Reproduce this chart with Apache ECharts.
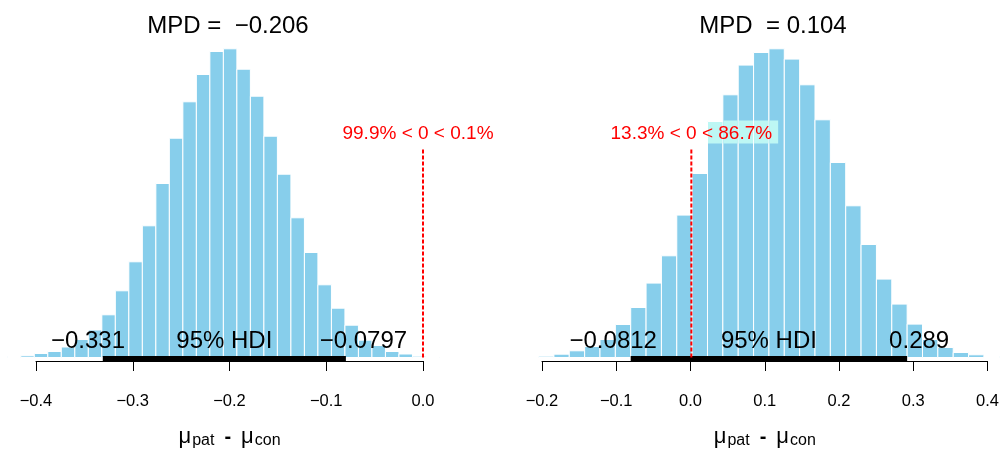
<!DOCTYPE html>
<html>
<head>
<meta charset="utf-8">
<script src="https://cdn.jsdelivr.net/npm/echarts@6/dist/echarts.min.js"></script>
<style>
  html, body { margin: 0; padding: 0; background: #fff; }
  #chart { width: 1002px; height: 450px; }
</style>
</head>
<body>
<div id="chart"></div>
<script>
// Posterior of mu_pat - mu_con for two comparisons: histogram heights per bin
const leftFreq = [1, 1.7, 4, 6, 10.5, 18, 27.5, 42.7, 66.7, 95.7, 131.7, 174, 219.3, 255.7, 283, 306,
                  308.7, 288.3, 261.3, 221.3, 183.3, 139.7, 105, 72.7, 49.3, 32.3, 17.3, 12, 6, 3.5, 1.3, 0.5];
const rightFreq = [1.3, 3.3, 6.7, 11, 18, 33, 50, 74.4, 101.7, 142.4, 184, 236, 262.7, 292.4, 305,
                   308.7, 298.4, 272.7, 237.7, 195, 151.7, 113, 78.4, 53.4, 33.4, 18, 10, 5, 2.7, 1];
const leftBinStart = -0.4297, leftBinWidth = 0.01396;
const rightBinStart = -0.2046, rightBinWidth = 0.020567;

const leftHDI = [-0.331, -0.0797];
const rightHDI = [-0.0812, 0.289];
const leftMPD = '\u22120.206';
const rightMPD = '0.104';
const leftPct = ['99.9%', '0.1%'];
const rightPct = ['13.3%', '86.7%'];
const compVal = 0;

const FONT = "'Liberation Sans', Arial, Helvetica, sans-serif";
const BAR = '#87CEEB';
const BAR_HILITE = '#bdf7f4';

const measureCtx = document.createElement('canvas').getContext('2d');
function textWidth(t, size) {
  measureCtx.font = size + 'px ' + FONT;
  return measureCtx.measureText(t).width;
}
function fmtNum(v) {
  const s = String(v);
  return s.charAt(0) === '-' ? '\u2212' + s.slice(1) : s;
}
function fmtTick(v) {
  const r = Math.round(v * 10) / 10;
  return (r < 0 ? '\u2212' : '') + Math.abs(r).toFixed(1);
}

function binData(freq, start, width) {
  return freq.map((h, i) => [start + i * width, start + (i + 1) * width, h]);
}

function histRender(params, api) {
  const p0 = api.coord([api.value(0), 0]);
  const p1 = api.coord([api.value(1), api.value(2)]);
  return {
    type: 'rect',
    shape: { x: p0[0], y: p1[1], width: p1[0] - p0[0], height: p0[1] - p1[1] },
    style: { fill: BAR, stroke: '#ffffff', lineWidth: 1 }
  };
}

// thick HDI segment with its end values and the "95% HDI" caption
function hdiRender(params, api) {
  const lo = api.value(0), hi = api.value(1);
  const a = api.coord([lo, 0]);
  const b = api.coord([hi, 0]);
  const size = 24;
  const loTxt = fmtNum(lo), hiTxt = fmtNum(hi);
  const wLo = textWidth(loTxt, size), wHi = textWidth(hiTxt, size);
  const ty = a[1] - 4;
  const font = size + 'px ' + FONT;
  return {
    type: 'group',
    children: [
      { type: 'line', shape: { x1: a[0], y1: a[1] + 1, x2: b[0], y2: b[1] + 1 },
        style: { stroke: '#000', lineWidth: 5 } },
      { type: 'text', x: a[0] - 0.7 * wLo, y: ty,
        style: { text: loTxt, font: font, fill: '#000', align: 'left', verticalAlign: 'bottom' } },
      { type: 'text', x: b[0] - 0.3 * wHi, y: ty,
        style: { text: hiTxt, font: font, fill: '#000', align: 'left', verticalAlign: 'bottom' } },
      { type: 'text', x: (a[0] + b[0]) / 2, y: ty,
        style: { text: '95% HDI', font: font, fill: '#000', align: 'center', verticalAlign: 'bottom' } }
    ]
  };
}

// dashed comparison line at compVal with the percentage text above it;
// the text box lightens whatever bars lie behind it
function compRender(label, shiftX, bins) {
  return function (params, api) {
    const base = api.coord([api.value(0), 0]);
    const top = api.coord([api.value(0), api.value(1)]);
    const lab = api.coord([api.value(0), api.value(2)]);
    const size = 19;
    const w = textWidth(label, size);
    const cx = lab[0] + shiftX;
    const box = { x0: cx - w / 2 - 4, x1: cx + w / 2 + 6, y0: lab[1] - 13, y1: lab[1] + 10 };
    const children = [];
    bins.forEach(function (b) {
      const p0 = api.coord([b[0], 0]);
      const p1 = api.coord([b[1], b[2]]);
      const x0 = Math.max(p0[0] + 0.5, box.x0), x1 = Math.min(p1[0] - 0.5, box.x1);
      const y0 = Math.max(p1[1] + 0.5, box.y0), y1 = Math.min(p0[1], box.y1);
      if (x1 > x0 && y1 > y0) {
        children.push({ type: 'rect', shape: { x: x0, y: y0, width: x1 - x0, height: y1 - y0 },
          style: { fill: BAR_HILITE } });
      }
    });
    children.push(
      { type: 'line', shape: { x1: base[0], y1: base[1], x2: top[0], y2: top[1] },
        style: { stroke: '#ff0000', lineWidth: 2, lineDash: [4, 2] } },
      { type: 'text', x: cx, y: lab[1],
        style: { text: label, font: size + 'px ' + FONT, fill: '#ff0000', align: 'center', verticalAlign: 'middle' } }
    );
    return { type: 'group', children: children };
  };
}

const axisName = {
  rich: {
    mu: { fontFamily: FONT, fontSize: 22, color: '#000' },
    sub: { fontFamily: FONT, fontSize: 16, color: '#000', padding: [8, 0, 0, 1] },
    dash: { fontFamily: FONT, fontSize: 20, color: '#000', fontWeight: 'bold', padding: [0, 10, 0, 10] }
  }
};
const nameText = '{mu|\u03bc}{sub|pat}{dash|-}{mu|\u03bc}{sub|con}';

function visibleAxis(gridIndex, min, max) {
  return {
    type: 'value', gridIndex, min, max, interval: 0.1,
    axisLine: { show: true, onZero: false, lineStyle: { color: '#000', width: 1 } },
    axisTick: { show: true, inside: false, length: 10, lineStyle: { color: '#000', width: 1 } },
    axisLabel: { show: true, margin: 32, fontFamily: FONT, fontSize: 16.5, color: '#000', formatter: fmtTick },
    splitLine: { show: false },
    name: nameText, nameLocation: 'middle', nameGap: 64,
    nameTextStyle: axisName
  };
}
function hiddenX(gridIndex, min, max) {
  return { type: 'value', gridIndex, min, max, show: false, splitLine: { show: false } };
}
function hiddenY(gridIndex) {
  return { type: 'value', gridIndex, min: 0, max: 340, show: false, splitLine: { show: false } };
}

const leftBins = binData(leftFreq, leftBinStart, leftBinWidth);
const rightBins = binData(rightFreq, rightBinStart, rightBinWidth);

const chart = echarts.init(document.getElementById('chart'), null, { renderer: 'canvas' });
chart.setOption({
  animation: false,
  backgroundColor: '#ffffff',
  title: [
    { text: 'MPD =  ' + leftMPD, left: 223, top: 9, textAlign: 'center',
      textStyle: { fontFamily: FONT, fontSize: 24, fontWeight: 'normal', color: '#000' } },
    { text: 'MPD  = ' + rightMPD, left: 768, top: 9, textAlign: 'center',
      textStyle: { fontFamily: FONT, fontSize: 24, fontWeight: 'normal', color: '#000' } }
  ],
  grid: [
    { left: 7, width: 435.35, top: 17.5, height: 340 },
    { left: 534.53, width: 465.2, top: 17.5, height: 340 },
    { left: 36, width: 387, top: 300, height: 71 },
    { left: 542, width: 448, top: 300, height: 71 }
  ],
  xAxis: [
    hiddenX(0, -0.43, 0.02),
    hiddenX(1, -0.21, 0.413),
    visibleAxis(2, -0.4, 0.0),
    visibleAxis(3, -0.2, 0.4)
  ],
  yAxis: [hiddenY(0), hiddenY(1), hiddenY(2), hiddenY(3)],
  series: [
    { type: 'custom', xAxisIndex: 0, yAxisIndex: 0, renderItem: histRender,
      data: leftBins, encode: { x: [0, 1], y: 2 }, z: 1 },
    { type: 'custom', xAxisIndex: 1, yAxisIndex: 1, renderItem: histRender,
      data: rightBins, encode: { x: [0, 1], y: 2 }, z: 1 },
    { type: 'custom', xAxisIndex: 0, yAxisIndex: 0, renderItem: hdiRender,
      data: [leftHDI], encode: { x: [0, 1] }, z: 3 },
    { type: 'custom', xAxisIndex: 1, yAxisIndex: 1, renderItem: hdiRender,
      data: [rightHDI], encode: { x: [0, 1] }, z: 3 },
    { type: 'custom', xAxisIndex: 0, yAxisIndex: 0,
      renderItem: compRender(leftPct[0] + ' < ' + compVal + ' < ' + leftPct[1], -5, leftBins),
      data: [[compVal, 208, 224]], encode: { x: 0, y: 1 }, z: 4 },
    { type: 'custom', xAxisIndex: 1, yAxisIndex: 1,
      renderItem: compRender(rightPct[0] + ' < ' + compVal + ' < ' + rightPct[1], 0, rightBins),
      data: [[compVal, 208, 224]], encode: { x: 0, y: 1 }, z: 4 },
    { type: 'line', xAxisIndex: 2, yAxisIndex: 2, data: [], silent: true },
    { type: 'line', xAxisIndex: 3, yAxisIndex: 3, data: [], silent: true }
  ]
});
</script>
</body>
</html>
